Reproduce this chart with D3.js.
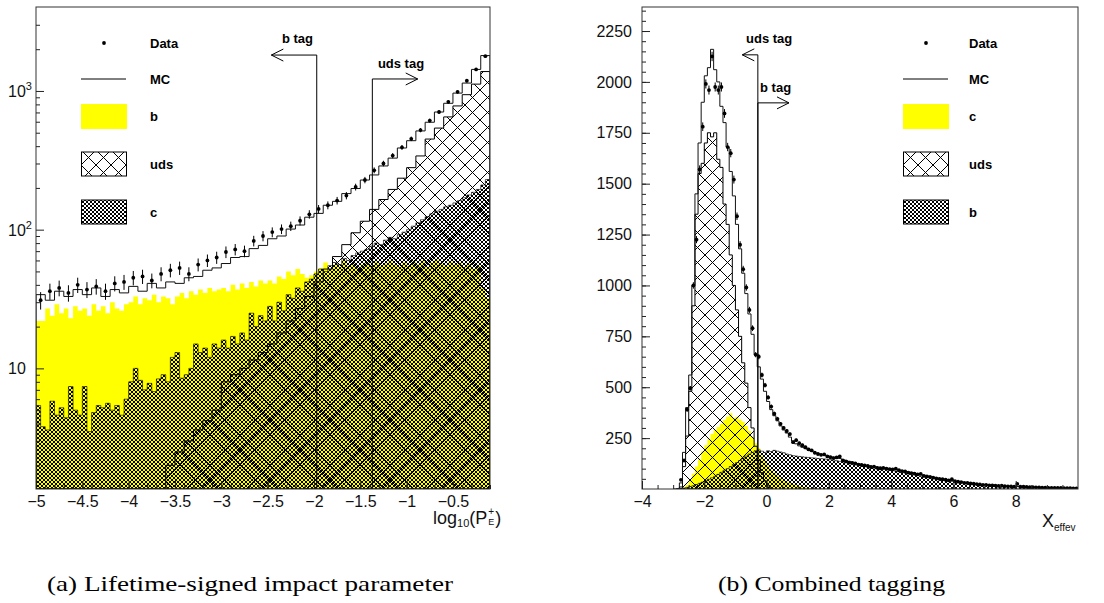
<!DOCTYPE html>
<html>
<head>
<meta charset="utf-8">
<script src="https://cdn.jsdelivr.net/npm/d3@7"></script>
<style>
  body { margin: 0; background: #fff; }
  svg text { font-family: "Liberation Sans", Arial, sans-serif; }
</style>
</head>
<body>
<script>
// ---------------- data: (a) lifetime-signed impact parameter, log10(P_E+) ----------------
// bins start at -5, data/MC/uds are 0.1 wide, b and c are 0.05 wide
var leftData = [31, 36, 38, 35, 40, 37, 39, 36, 41, 42,
  45, 46, 43, 48, 51, 53, 48, 56, 60, 63,
  69, 72, 70, 83, 90, 96, 101, 106, 116, 129,
  141, 150, 162, 176, 203, 228, 268, 300, 342, 392,
  452, 522, 612, 705, 835, 985, 1185, 1430, 1780];
var leftMC = [34, 31, 36, 33, 37, 34, 38, 33, 37, 35,
  39, 36, 41, 38, 42, 41, 45, 46, 51, 53,
  57, 63, 64, 73, 77, 86, 90, 101, 108, 123,
  131, 150, 160, 182, 198, 228, 248, 288, 328, 388,
  438, 515, 595, 705, 815, 965, 1140, 1430, 1800];
var leftUds = [1.2, 1.2, 1.2, 1.2, 1.2, 1.2, 1.2, 1.2, 1.2, 1.2,
  1.2, 1.2, 1.2, 1.2, 2, 2.5, 3, 3.6, 4.2, 5,
  8, 9, 10, 11.5, 13, 15, 18, 22, 27, 33,
  42, 52, 64, 78, 95, 115, 140, 165, 195, 235,
  280, 340, 450, 540, 650, 780, 940, 1120, 1380];
var leftB = [22, 22, 27, 24, 29, 25, 27, 23, 28, 26,
  27, 24, 29, 26, 28, 25, 30, 27, 26, 29,
  30, 33, 29, 32, 31, 34, 30, 33, 32, 29,
  33, 35, 32, 36, 34, 37, 35, 38, 36, 37,
  38, 36, 40, 37, 41, 38, 42, 39, 43, 41,
  43, 41, 46, 44, 50, 47, 52, 48, 45, 47,
  50, 53, 58, 52, 56, 54, 60, 55, 57, 53,
  56, 58, 54, 59, 55, 57, 60, 56, 54, 58,
  55, 59, 56, 60, 54, 58, 61, 57, 55, 59,
  56, 58, 54, 57, 52, 55, 38, 32];
var leftC = [5.4, 3.8, 3.6, 5.8, 4.6, 5.2, 4.4, 7.4, 5.0, 4.6,
  7.4, 3.5, 4.8, 5.4, 5.2, 5.6, 5.0, 5.4, 4.6, 6.0,
  8.0, 10.0, 8.2, 7.0, 7.8, 6.8, 8.4, 9.0, 8.0, 12.0,
  13, 8.5, 9, 10, 15, 13, 14, 12, 15, 14,
  16, 14, 17, 15, 18, 16, 25, 20, 24, 22,
  28, 22, 30, 26, 34, 32, 38, 36, 42, 44,
  48, 52, 50, 55, 58, 56, 62, 60, 65, 68,
  70, 72, 76, 80, 78, 84, 88, 86, 92, 96,
  100, 106, 112, 118, 124, 130, 136, 140, 146, 150,
  156, 162, 170, 178, 186, 195, 210, 230];
var leftXTicks = [-5, -4.5, -4, -3.5, -3, -2.5, -2, -1.5, -1, -0.5];
var leftYTicks = [10, 100, 1000];
var leftLegend = ["Data", "MC", "b", "uds", "c"];
var leftCuts = [
  { label: "b tag", x: -1.97, y: 1815, dir: -1, len: 0.49, tx: -2.345, ty: 2220 },
  { label: "uds tag", x: -1.37, y: 1220, dir: 1, len: 0.49, tx: -1.31, ty: 1462 }
];

// ---------------- data: (b) combined tagging, X_effev ----------------
// 0.1 wide bins; data, MC, uds and c start at -2.9, b starts at -3
var rightData = [0, 45, 140, 390, 495, 1000, 1225, 1570, 1780, 1990,
  1960, 2125, 1975, 1960, 1975, 1845, 1680, 1650, 1520, 1340,
  1200, 1080, 990, 880, 790, 660, 650, 560, 510, 450,
  405, 370, 345, 320, 300, 285, 270, 230, 240, 225,
  215, 205, 195, 190, 178, 172, 168, 170, 160, 156,
  152, 155, 160, 140, 136, 130, 128, 126, 120, 118,
  116, 114, 108, 110, 104, 102, 104, 100, 98, 96,
  100, 92, 88, 86, 80, 78, 76, 72, 74, 64,
  62, 60, 56, 52, 50, 48, 46, 42, 48, 38,
  36, 34, 30, 30, 27, 26, 24, 22, 20, 20,
  18, 18, 17, 15, 16, 14, 13, 13, 12, 25,
  11, 11, 10, 9, 9, 8, 8, 7, 7, 6,
  6, 5, 5, 5, 4, 4, 4, 3, 3];
var rightMC = [0, 30, 180, 400, 560, 1000, 1450, 1700, 1900, 2030,
  2070, 2160, 2060, 2000, 1880, 1800, 1680, 1560, 1440, 1300,
  1180, 1060, 960, 860, 760, 660, 600, 540, 480, 430,
  390, 360, 335, 310, 290, 275, 255, 235, 222, 212,
  205, 198, 190, 184, 178, 174, 170, 167, 164, 160,
  156, 152, 150, 144, 140, 136, 132, 128, 124, 121,
  118, 115, 112, 110, 108, 106, 104, 102, 100, 98,
  97, 93, 90, 87, 84, 81, 78, 75, 72, 67,
  64, 61, 58, 55, 52, 50, 47, 45, 42, 39,
  37, 35, 33, 31, 29, 27, 25, 23, 22, 21,
  20, 19, 18, 17, 16, 15, 14, 13.5, 13, 12.5,
  12, 11.5, 11, 10, 9.5, 9, 8.5, 8, 7.5, 7,
  6.5, 6, 5.5, 5, 4.6, 4.3, 4, 3.7, 3.4];
var rightUds = [0, 10, 110, 260, 480, 900, 1350, 1550, 1600, 1700,
  1750, 1730, 1750, 1620, 1580, 1400, 1300, 1150, 1000, 880,
  750, 620, 520, 400, 300, 210, 140, 80, 40, 15,
  5];
var rightC = [0, 0, 8, 20, 45, 75, 110, 145, 185, 215,
  245, 270, 290, 305, 320, 340, 355, 372, 350, 355,
  340, 330, 310, 285, 255, 225, 200, 165, 140, 115,
  95, 80, 66, 55, 45, 37, 30, 24, 19, 15,
  11, 8, 6, 4, 3, 2, 1, 1];
var rightB = [0, 0, 2, 5, 8, 12, 16, 22, 28, 34,
  40, 48, 55, 62, 72, 82, 92, 100, 110, 120,
  130, 140, 152, 162, 172, 180, 188, 192, 186, 180,
  188, 184, 190, 186, 182, 178, 172, 168, 164, 162,
  160, 158, 156, 155, 153, 152, 150, 149, 148, 146,
  144, 142, 139, 136, 133, 129, 126, 122, 119, 116,
  113, 110, 108, 105, 103, 101, 99, 97, 95, 93,
  91, 88, 85, 82, 79, 76, 73, 70, 67, 63,
  60, 57, 54, 52, 49, 47, 44, 41, 39, 37,
  35, 33, 31, 29, 27, 25, 24, 22, 21, 20,
  19, 18, 17, 16, 15, 14, 13.5, 13, 12.5, 12,
  11.5, 11, 10.5, 10, 9.5, 9, 8.5, 8, 7.5, 7,
  6.5, 6, 5.5, 5, 4.6, 4.3, 4, 3.7, 3.4, 3];
var rightXTicks = [-4, -2, 0, 2, 4, 6, 8];
var rightYTicks = [250, 500, 750, 1000, 1250, 1500, 1750, 2000, 2250];
var rightLegend = ["Data", "MC", "c", "uds", "b"];
var rightCuts = [
  { label: "uds tag", x: -0.28, y: 2133, dir: -1, len: 0.5, tx: -0.66, ty: 2192 },
  { label: "b tag", x: -0.28, y: 1897, dir: 1, len: 1.0, tx: -0.21, ty: 1951 }
];

var captions = ["(a) Lifetime-signed impact parameter", "(b) Combined tagging"];

// ---------------- setup ----------------
var svg = d3.select("body").append("svg")
  .attr("width", 1104)
  .attr("height", 603);

svg.append("rect").attr("width", 1104).attr("height", 603).attr("fill", "#fff");

var defs = svg.append("defs");

// big cross hatch (uds)
var sparse = defs.append("pattern")
  .attr("id", "sparse")
  .attr("patternUnits", "userSpaceOnUse")
  .attr("width", 15).attr("height", 15);
sparse.append("path")
  .attr("d", "M-2,-2L17,17M17,-2L-2,17")
  .attr("stroke", "#000").attr("stroke-width", 1).attr("fill", "none");

// fine cross hatch, drawn pixel by pixel so it stays crisp
var dense = defs.append("pattern")
  .attr("id", "dense")
  .attr("patternUnits", "userSpaceOnUse")
  .attr("width", 4).attr("height", 4);
dense.append("path")
  .attr("d", "M0,0h1v1h-1zM1,1h1v1h-1zM2,2h1v1h-1zM3,3h1v1h-1zM3,0h1v1h-1zM2,1h1v1h-1zM1,2h1v1h-1zM0,3h1v1h-1z")
  .attr("fill", "#000")
  .attr("shape-rendering", "crispEdges");

var fmt = function(d) {
  var a = Math.round(Math.abs(d) * 10) / 10;
  return (d < 0 ? "\u2212" : "") + a;
};

// turn a bin array into points for a step curve
function stepPoints(vals, start, w, base) {
  var pts = [[start, base]];
  vals.forEach(function(v, i) { pts.push([start + i * w, Math.max(v, base)]); });
  pts.push([start + vals.length * w, Math.max(vals[vals.length - 1], base)]);
  pts.push([start + vals.length * w, base]);
  return pts;
}

function drawPanel(p) {
  var x = p.x, y = p.y;
  var x0 = x.range()[0], x1 = x.range()[1];
  var yb = y.range()[0], yt = y.range()[1];
  var base = y.domain()[0];

  var clipId = "clip" + p.id;
  defs.append("clipPath").attr("id", clipId)
    .append("rect").attr("x", x0).attr("y", yt).attr("width", x1 - x0).attr("height", yb - yt);

  var plot = svg.append("g").attr("clip-path", "url(#" + clipId + ")");

  var area = d3.area().curve(d3.curveStepAfter)
    .x(function(d) { return x(d[0]); })
    .y0(yb)
    .y1(function(d) { return y(d[1]); });
  var line = d3.line().curve(d3.curveStepAfter)
    .x(function(d) { return x(d[0]); })
    .y(function(d) { return y(d[1]); });

  // yellow component
  plot.append("path")
    .attr("d", area(stepPoints(p.yellow, p.start, p.yellowW, base)))
    .attr("fill", "#ffff00");
  // fine hatched component
  plot.append("path")
    .attr("d", area(stepPoints(p.dense, p.denseStart, p.denseW, base)))
    .attr("fill", "url(#dense)")
    .attr("stroke", "#000").attr("stroke-width", 0.6);
  // uds component
  plot.append("path")
    .attr("d", area(stepPoints(p.uds, p.start, p.w, base)))
    .attr("fill", "url(#sparse)")
    .attr("stroke", "#000").attr("stroke-width", 1);
  // MC total
  plot.append("path")
    .attr("d", line(stepPoints(p.mc, p.start, p.w, base)))
    .attr("fill", "none")
    .attr("stroke", "#111").attr("stroke-width", 1);

  // data points with error bars
  var pts = p.data.map(function(v, i) { return { x: p.start + (i + 0.5) * p.w, v: v }; })
    .filter(function(d) { return d.v > 0; });
  plot.selectAll(".err").data(pts).enter().append("line")
    .attr("x1", function(d) { return x(d.x); })
    .attr("x2", function(d) { return x(d.x); })
    .attr("y1", function(d) { return y(d.v + p.errK * Math.sqrt(d.v)); })
    .attr("y2", function(d) { return y(Math.max(d.v - p.errK * Math.sqrt(d.v), base)); })
    .attr("stroke", "#000").attr("stroke-width", 1);
  plot.selectAll(".pt").data(pts).enter().append("circle")
    .attr("cx", function(d) { return x(d.x); })
    .attr("cy", function(d) { return y(d.v); })
    .attr("r", 1.9)
    .attr("fill", "#000");

  // tag cuts with arrows
  p.cuts.forEach(function(c) {
    var cx = x(c.x), cy = y(c.y), ex = x(c.x + c.dir * c.len);
    svg.append("path")
      .attr("d", "M" + cx + "," + yb + "V" + cy + "H" + ex +
        "M" + (ex - c.dir * 12) + "," + (cy - 6) + "L" + ex + "," + cy + "L" + (ex - c.dir * 12) + "," + (cy + 6))
      .attr("fill", "none").attr("stroke", "#000").attr("stroke-width", 1);
    svg.append("text")
      .attr("x", x(c.tx)).attr("y", y(c.ty))
      .style("font-size", "13px").style("font-weight", "bold")
      .text(c.label);
  });

  // frame
  svg.append("rect")
    .attr("x", x0).attr("y", yt).attr("width", x1 - x0).attr("height", yb - yt)
    .attr("fill", "none").attr("stroke", "#333").attr("stroke-width", 1);

  // axes, ticks pointing inwards
  var gx = svg.append("g").attr("transform", "translate(0," + yb + ")")
    .call(d3.axisBottom(x).tickValues(p.xTicks).tickSize(-8).tickSizeOuter(0).tickPadding(7).tickFormat(fmt));
  svg.append("g").attr("transform", "translate(0," + yb + ")")
    .call(d3.axisBottom(x).tickValues(p.xMinor).tickSize(-4).tickSizeOuter(0).tickFormat(""));
  var gy = svg.append("g").attr("transform", "translate(" + x0 + ",0)")
    .call(d3.axisLeft(y).tickValues(p.yTicks).tickSize(-8).tickSizeOuter(0).tickPadding(10)
      .tickFormat(p.logY ? "" : function(d) { return d; }));
  svg.append("g").attr("transform", "translate(" + x0 + ",0)")
    .call(d3.axisLeft(y).tickValues(p.yMinor).tickSize(-4).tickSizeOuter(0).tickFormat(""));
  svg.selectAll(".domain").remove();
  svg.selectAll(".tick line").attr("stroke", "#222");
  [gx, gy].forEach(function(g) {
    g.selectAll("text").style("font-size", "16px").attr("fill", "#111")
      .style("font-family", "'Liberation Sans', Arial, sans-serif");
  });

  if (p.logY) {
    p.yTicks.forEach(function(v) {
      var e = Math.round(Math.log10(v));
      var t = svg.append("text").attr("x", 8).attr("y", y(v) + 6)
        .style("font-size", "16px").attr("fill", "#111").text("10");
      if (e > 1) t.append("tspan").attr("dy", -7).style("font-size", "11px").text(e);
    });
  }

  // legend
  var lg = svg.append("g").attr("transform", "translate(" + p.legX + ",0)");
  var rows = [43, 79, 116, 164, 212];
  lg.append("circle").attr("cx", 23).attr("cy", rows[0]).attr("r", 1.9).attr("fill", "#000");
  lg.append("line").attr("x1", 0).attr("x2", 45).attr("y1", rows[1]).attr("y2", rows[1])
    .attr("stroke", "#000").attr("stroke-width", 1);
  lg.append("rect").attr("x", 0).attr("y", rows[2] - 12).attr("width", 46).attr("height", 25)
    .attr("fill", "#ffff00");
  lg.append("rect").attr("x", 0.5).attr("y", rows[3] - 12).attr("width", 45).attr("height", 24)
    .attr("fill", p.legFills[3]).attr("stroke", "#000");
  lg.append("rect").attr("x", 0.5).attr("y", rows[4] - 12).attr("width", 45).attr("height", 24)
    .attr("fill", p.legFills[4]).attr("stroke", "#000");
  p.legend.forEach(function(name, i) {
    lg.append("text").attr("x", p.legTx).attr("y", rows[i] + 5)
      .style("font-size", "13px").style("font-weight", "bold").text(name);
  });
}

// ---------------- panel (a) ----------------
var xL = d3.scaleLinear().domain([-5, -0.1]).range([36, 490]);
var yL = d3.scaleLog().domain([1.35, 4030]).range([489, 7]);
var leftMinorY = [];
[1, 10, 100, 1000].forEach(function(dec) {
  for (var k = 2; k <= 9; k++) if (dec * k < 4000) leftMinorY.push(dec * k);
});

drawPanel({
  id: "a", x: xL, y: yL, logY: true, start: -5, w: 0.1,
  data: leftData, mc: leftMC, uds: leftUds,
  yellow: leftB, yellowW: 0.05, dense: leftC, denseStart: -5, denseW: 0.05,
  errK: 0.8, cuts: leftCuts,
  xTicks: leftXTicks,
  xMinor: d3.range(-49, 0).map(function(i) { return i / 10; }),
  yTicks: leftYTicks, yMinor: leftMinorY,
  legend: leftLegend, legX: 81, legTx: 69,
  legFills: [null, null, "#ffff00", "url(#sparse)", "url(#dense)"]
});

// ---------------- panel (b) ----------------
var xR = d3.scaleLinear().domain([-4, 10]).range([642, 1078]);
var yR = d3.scaleLinear().domain([0, 2368]).range([489, 7]);

drawPanel({
  id: "b", x: xR, y: yR, logY: false, start: -2.9, w: 0.1,
  data: rightData, mc: rightMC, uds: rightUds,
  yellow: rightC, yellowW: 0.1, dense: rightB, denseStart: -3, denseW: 0.1,
  errK: 0.5, cuts: rightCuts,
  xTicks: rightXTicks,
  xMinor: d3.range(-8, 20).map(function(i) { return i / 2; }),
  yTicks: rightYTicks,
  yMinor: d3.range(1, 48).map(function(i) { return i * 50; }),
  legend: rightLegend, legX: 903, legTx: 66,
  legFills: [null, null, "#ffff00", "url(#sparse)", "url(#dense)"]
});

// ---------------- axis titles ----------------
var tA = svg.append("text").attr("x", 433).attr("y", 524).style("font-size", "18px").attr("fill", "#111");
tA.append("tspan").text("log");
tA.append("tspan").attr("dy", 3).style("font-size", "11px").text("10");
tA.append("tspan").attr("dy", -3).text("(P");
var wA = tA.node().getComputedTextLength();
svg.append("text").attr("x", 433 + wA + 1).attr("y", 515).style("font-size", "10px").attr("fill", "#111").text("+");
svg.append("text").attr("x", 433 + wA + 1).attr("y", 525).style("font-size", "9px").attr("fill", "#111").text("E");
svg.append("text").attr("x", 433 + wA + 8).attr("y", 524).style("font-size", "18px").attr("fill", "#111").text(")");

var tB = svg.append("text").attr("x", 1042).attr("y", 527).style("font-size", "18px").attr("fill", "#111");
tB.append("tspan").text("X");
tB.append("tspan").attr("dy", 4).style("font-size", "10px").text("effev");

// ---------------- captions ----------------
var capPos = [[47, 406], [718, 227]];
captions.forEach(function(c, i) {
  svg.append("text")
    .attr("x", capPos[i][0]).attr("y", 591)
    .attr("textLength", capPos[i][1]).attr("lengthAdjust", "spacingAndGlyphs")
    .style("font-family", "'Liberation Serif', 'Times New Roman', serif")
    .style("font-size", "22px").attr("fill", "#000")
    .text(c);
});
</script>
</body>
</html>
